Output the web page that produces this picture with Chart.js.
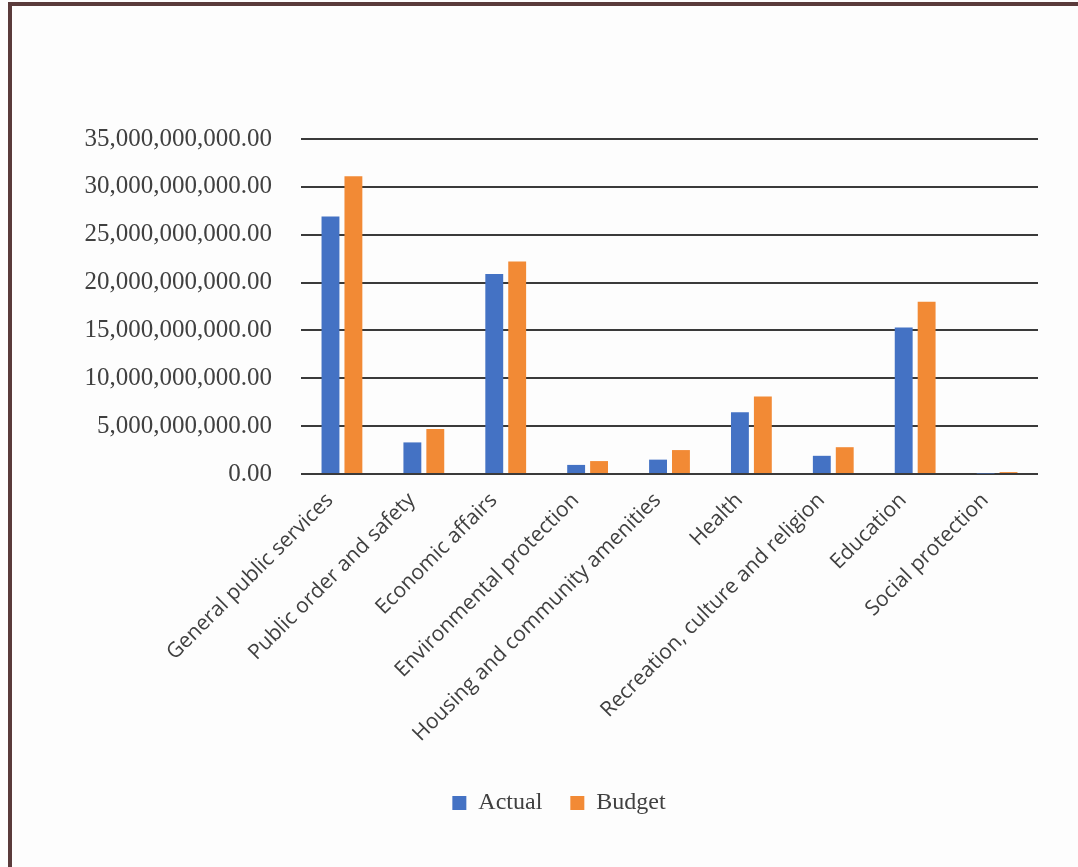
<!DOCTYPE html>
<html>
<head>
<meta charset="utf-8">
<script src="https://cdn.jsdelivr.net/npm/chart.js@4.4.0/dist/chart.umd.min.js"></script>
<style>
  html, body { margin: 0; padding: 0; background: #fdfdfd; }
  #kader {
    position: absolute; left: 8px; top: 2px; width: 1080px; height: 880px;
    border-left: 4px solid #5a3b3b; border-top: 4px solid #5a3b3b;
  }
  #wrap { position: absolute; left: 0; top: 0; width: 1078px; height: 867px; }
</style>
</head>
<body>
<div id="kader"></div>
<div id="wrap"><canvas id="uitgaven"></canvas></div>
<script>
// categorieen en waarden (in dollars)
const categorieen = [
  'General public services',
  'Public order and safety',
  'Economic affairs',
  'Environmental protection',
  'Housing and community amenities',
  'Health',
  'Recreation, culture and religion',
  'Education',
  'Social protection'
];
const actueel = [26.9e9, 3.3e9, 20.9e9, 0.95e9, 1.5e9, 6.45e9, 1.9e9, 15.3e9, 0.05e9];
const begroting = [31.1e9, 4.7e9, 22.2e9, 1.35e9, 2.5e9, 8.1e9, 2.8e9, 18.0e9, 0.2e9];
const yTicks = [0, 5e9, 10e9, 15e9, 20e9, 25e9, 30e9, 35e9];

const serif = '"Liberation Serif", "Times New Roman", serif';
const ctx = document.getElementById('uitgaven');

new Chart(ctx, {
  type: 'bar',
  data: {
    labels: categorieen,
    datasets: [
      { label: 'Actual', data: actueel, backgroundColor: '#4472c4',
        categoryPercentage: 0.56, barPercentage: 0.78 },
      { label: 'Budget', data: begroting, backgroundColor: '#f28a35',
        categoryPercentage: 0.56, barPercentage: 0.78 }
    ]
  },
  options: {
    responsive: true,
    maintainAspectRatio: false,
    animation: false,
    // links 80 zodat de legenda ongeveer rond x=560 staat, zoals in het origineel
    layout: { padding: { left: 80, right: 40, top: 139, bottom: 42 } },
    plugins: {
      tooltip: { enabled: false },
      legend: {
        position: 'bottom',
        labels: {
          boxWidth: 14, boxHeight: 14, padding: 28,
          color: '#404040',
          font: { family: serif, size: 24 }
        }
      }
    },
    scales: {
      x: {
        grid: { display: false },
        border: { display: false },
        ticks: {
          minRotation: 45, maxRotation: 45, padding: 6, labelOffset: -12,
          color: '#404040',
          font: { family: '"Open Sans", sans-serif', size: 21 }
        },
        afterFit: (scale) => { scale.height = 289; }
      },
      y: {
        min: 0, max: 35e9,
        afterBuildTicks: (scale) => { scale.ticks = yTicks.map(v => ({ value: v })); },
        afterFit: (scale) => { scale.width = 221; },
        grid: { color: '#3a3a3a', lineWidth: 2, drawTicks: false },
        border: { display: false },
        ticks: {
          padding: 29,
          color: '#404040',
          font: { family: serif, size: 25 },
          callback: (v) => Number(v).toLocaleString('en-US', { minimumFractionDigits: 2, maximumFractionDigits: 2 })
        }
      }
    }
  }
});
</script>
</body>
</html>
